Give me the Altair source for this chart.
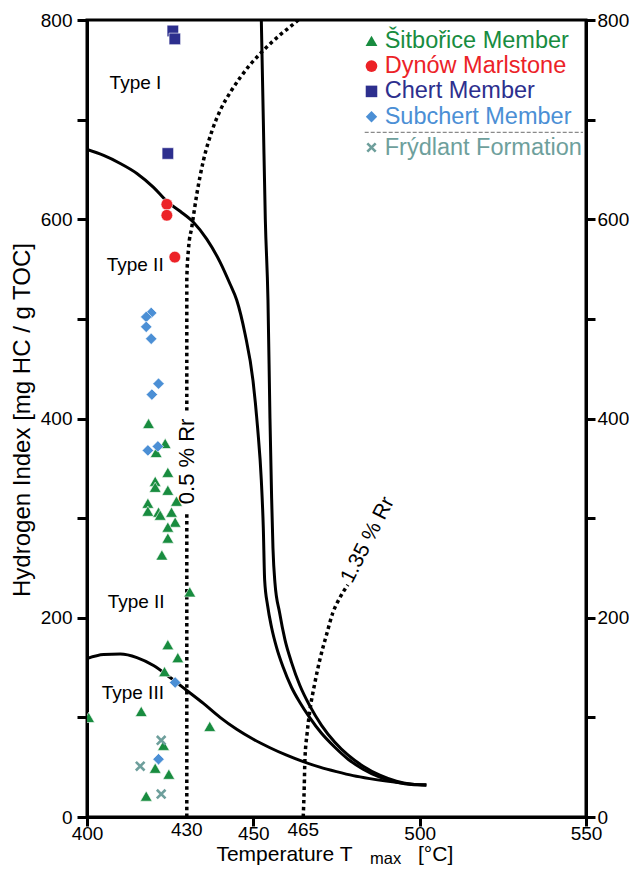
import altair as alt
import pandas as pd

FONT = "Liberation Sans"

groups = ["Šitbořice Member", "Dynów Marlstone", "Chert Member", "Subchert Member", "Frýdlant Formation"]
colors = ["#188c3f", "#ec2227", "#2d2f8e", "#4b8fd5", "#6e9f9c"]
shapes = ["triangle-up", "circle", "square", "diamond"]
sizes = [140, 130, 110, 150]

# --- samples (Tmax [°C], HI) ---
sit_t = [418.5, 423.5, 420.8, 424.3, 420.5, 420.5, 424.3, 418.3, 426.9, 418.3, 421.5, 422.0, 425.4,
         426.5, 424.3, 424.3, 422.5, 430.9, 424.3, 427.3, 423.3, 400.5, 416.3, 436.9, 423.0, 420.5,
         424.6, 417.8]
sit_hi = [395, 375, 366, 346, 337, 331, 328, 315, 317, 307, 306, 303, 306,
          296, 291, 280, 263, 226, 173, 160, 146, 100, 106, 91, 72, 49,
          43, 21]
dyn_t = [424.0, 424.0, 426.4]
dyn_hi = [615, 604, 562]
che_t = [425.8, 426.4, 424.3]
che_hi = [789, 781, 666]
sub_t = [419.3, 417.8, 417.8, 419.3, 421.5, 419.5, 418.3, 421.3, 426.5, 421.5]
sub_hi = [506, 502, 492, 480, 435, 424, 368, 372, 135, 58]
fry_t = [422.3, 416.0, 422.3]
fry_hi = [77, 51, 23]

# --- kerogen type boundaries ---
type1_t = [452.4, 453.0, 453.6, 454.4, 455.0, 455.5, 455.9, 456.5, 457.9, 459.5, 461.5, 464.0, 466.9,
           470.5, 474.5, 478.5, 483.0, 488.0, 493.0, 497.5, 502.0]
type1_hi = [800, 700, 600, 519, 400, 320, 270, 235, 205, 178, 155, 132, 112,
            92, 75, 62, 51, 42, 36, 33, 32]
type2_t = [400, 405, 410, 415, 420, 424, 428, 432, 436, 440, 443, 445, 447.5, 449.9, 451.3, 452.4,
           453.0, 453.4, 454.3, 455.5, 457.0, 459.0, 461.5, 464.0, 466.9, 470.5, 474.5, 478.5, 483.0,
           488.0, 493.0, 497.5, 502.0]
type2_hi = [670, 664, 656, 646, 632, 618, 608, 597, 580, 557, 535, 519, 485, 438, 390, 338,
            290, 238, 212, 190, 170, 150, 130, 115, 100, 84, 70, 58, 48,
            40, 35, 32.5, 32]
type3_t = [400, 405, 410, 415, 420, 425, 430, 435, 440, 445, 450, 455, 460, 465, 470, 475, 480,
           485, 490, 496, 502]
type3_hi = [159, 163, 163.5, 160, 152, 140, 127, 114, 100, 88, 78, 69.5, 62, 55.5, 50, 45.5, 41.5,
            38.5, 36, 33.5, 32]

# --- vitrinite reflectance isolines ---
r05a_t = [430, 430]
r05a_hi = [0, 306]
r05b_t = [430, 430, 430.5, 431.5, 433, 435, 437.5, 440, 443, 446, 449, 452, 455, 458, 461, 463.5]
r05b_hi = [408, 540, 570, 592, 625, 659, 688, 709, 727, 742, 755, 766, 776, 785, 793, 800]
r135_t = [465, 465.3, 465.5, 466.2, 467, 468.4, 470, 472, 473.9, 476, 478.4]
r135_hi = [0, 30, 57, 85, 107, 133, 158, 183, 205, 220, 233]

x_major = [400, 450, 500, 550]
x_extra = [430, 465]
y_ticks = list(range(0, 801, 100))

# ---------------- build tables ----------------
pts = pd.DataFrame(
    [{"group": g, "t": t, "hi": h}
     for g, ts, hs in [(groups[0], sit_t, sit_hi), (groups[1], dyn_t, dyn_hi),
                       (groups[2], che_t, che_hi), (groups[3], sub_t, sub_hi)]
     for t, h in zip(ts, hs)]
)
fry = pd.DataFrame({"t": fry_t, "hi": fry_hi})


def curve_df(items):
    rows = []
    for name, ts, hs in items:
        for i, (t, h) in enumerate(zip(ts, hs)):
            rows.append({"curve": name, "i": i, "t": t, "hi": h})
    return pd.DataFrame(rows)


solid = curve_df([("type1", type1_t, type1_hi), ("type2", type2_t, type2_hi), ("type3", type3_t, type3_hi)])
dotted = curve_df([("r05a", r05a_t, r05a_hi), ("r05b", r05b_t, r05b_hi), ("r135", r135_t, r135_hi)])

xs = alt.Scale(domain=[400, 550], nice=False, zero=False)
ys = alt.Scale(domain=[0, 800], nice=False, zero=False)

axis_common = dict(tickWidth=3, domainWidth=3, domainColor="black", tickColor="black",
                   labelColor="black", labelFont=FONT, grid=False, title=None,
                   labelFlush=False, labelOverlap=False)

x_axis = alt.Axis(values=x_major, orient="bottom", labelPadding=-1.2, tickSize=9, labelFontSize=19,
                  **axis_common)
y_left = alt.Axis(values=y_ticks, orient="left", labelPadding=5, tickSize=10, labelFontSize=19,
                  labelExpr="datum.value % 200 === 0 ? datum.label : ''", **axis_common)
y_right = alt.Axis(values=y_ticks, orient="right", labelPadding=2, tickSize=9, labelFontSize=19,
                   labelExpr="datum.value % 200 === 0 ? datum.label : ''", **axis_common)


def X(field="t:Q"):
    return alt.X(field, scale=xs, axis=x_axis)


curves = alt.Chart(solid).mark_line(color="black", strokeWidth=3, clip=True, interpolate="monotone").encode(
    x=X(),
    y=alt.Y("hi:Q", scale=ys, axis=y_left),
    detail="curve:N",
    order="i:Q",
)

dots = alt.Chart(dotted).mark_line(color="black", strokeWidth=3.5, strokeDash=[3.5, 3.3],
                                   strokeCap="butt", clip=True, interpolate="monotone").encode(
    x=X(),
    y=alt.Y("hi:Q", scale=ys, axis=None),
    detail="curve:N",
    order="i:Q",
)

right_axis = alt.Chart(pd.DataFrame({"hi": [0]})).mark_point(opacity=0).encode(
    y=alt.Y("hi:Q", scale=ys, axis=y_right)
)

color_scale = alt.Scale(domain=groups, range=colors)
shape_scale = alt.Scale(domain=groups[:4], range=shapes)
size_scale = alt.Scale(domain=groups[:4], range=sizes)

points = alt.Chart(pts).mark_point(filled=True, opacity=1, stroke="white", strokeWidth=0.6,
                                   clip=True).encode(
    x=X(),
    y=alt.Y("hi:Q", scale=ys, axis=None),
    color=alt.Color("group:N", scale=color_scale, legend=None),
    shape=alt.Shape("group:N", scale=shape_scale, legend=None),
    size=alt.Size("group:N", scale=size_scale, legend=None),
)

crosses = alt.Chart(fry).mark_point(shape="M-1,-1L1,1M1,-1L-1,1", filled=False, size=75,
                                    strokeWidth=2.6, color=colors[4], opacity=1, clip=True).encode(
    x=X(),
    y=alt.Y("hi:Q", scale=ys, axis=None),
)


# ---------------- annotations ----------------
def label(text, t, hi, size=19, angle=0, align="left", baseline="middle"):
    return alt.Chart(pd.DataFrame({"a": [0]})).mark_text(
        text=text, fontSize=size, font=FONT, color="black", angle=angle, align=align, baseline=baseline
    ).encode(
        x=alt.XDatum(t, scale=xs, axis=x_axis, type="quantitative"),
        y=alt.YDatum(hi, scale=ys, axis=None, type="quantitative"),
    )


ann = [
    label("Type I", 406.8, 737),
    label("Type II", 405.9, 554),
    label("Type II", 406.2, 216),
    label("Type III", 404.4, 124),
    label("0.5 % Rr", 430, 357, size=22, angle=270, align="center"),
    label("1.35 % Rr", 484.4, 278, size=21, angle=297, align="center"),
]

extra_ticks = alt.Chart(pd.DataFrame({"t": x_extra})).mark_text(
    fontSize=19, font=FONT, color="black", baseline="top", align="center"
).encode(
    x=X(),
    y=alt.value(800.5),
    text=alt.Text("t:Q", format="d"),
)


# axis titles
def px_text(text, x, y, size, angle=0, align="left", baseline="alphabetic"):
    return alt.Chart(pd.DataFrame({"a": [0]})).mark_text(
        text=text, fontSize=size, font=FONT, color="black", angle=angle, align=align, baseline=baseline
    ).encode(x=alt.value(x), y=alt.value(y))


titles = [
    px_text("Hydrogen Index [mg HC / g TOC]", -57, 400, 24, angle=270, align="center"),
    px_text("Temperature T", 129.4, 841.2, 21),
    px_text("max", 283, 843.5, 16.5),
    px_text("[°C]", 331, 841.2, 21),
]

# ---------------- legend ----------------
leg = pd.DataFrame({"group": groups, "row": list(range(len(groups)))})
leg_y = "datum.row < 4 ? 20.8 + 25.3 * datum.row : 127.5"

leg_sym = alt.Chart(leg).transform_filter("datum.row < 4").transform_calculate(py=leg_y).mark_point(
    filled=True, opacity=1
).encode(
    x=alt.value(284.5),
    y=alt.Y("py:Q", scale=None, axis=None),
    color=alt.Color("group:N", scale=color_scale, legend=None),
    shape=alt.Shape("group:N", scale=shape_scale, legend=None),
    size=alt.Size("group:N", scale=alt.Scale(domain=groups[:4], range=[125, 115, 78, 150]), legend=None),
)
leg_x = alt.Chart(leg).transform_filter("datum.row == 4").transform_calculate(py=leg_y).mark_point(
    shape="M-1,-1L1,1M1,-1L-1,1", filled=False, size=70, strokeWidth=2.6, color=colors[4], opacity=1
).encode(x=alt.value(284.5), y=alt.Y("py:Q", scale=None, axis=None))

leg_txt = alt.Chart(leg).transform_calculate(py=leg_y).mark_text(
    fontSize=23.5, font=FONT, align="left", baseline="middle"
).encode(
    x=alt.value(297.7),
    y=alt.Y("py:Q", scale=None, axis=None),
    text="group:N",
    color=alt.Color("group:N", scale=color_scale, legend=None),
)

leg_rule = alt.Chart(pd.DataFrame({"a": [0]})).mark_rule(
    color="#8a8a8a", strokeWidth=1.3, strokeDash=[4, 2]
).encode(x=alt.value(277.7), x2=alt.value(496), y=alt.value(112.3))

chart = alt.layer(
    curves, dots, right_axis, points, crosses, *ann, extra_ticks, *titles,
    leg_rule, leg_sym, leg_x, leg_txt
).resolve_scale(y="independent").properties(
    width=499, height=797,
    autosize=alt.AutoSizeParams(type="none"),
    padding={"left": 79, "top": 12, "right": 43, "bottom": 48},
).configure(font=FONT).configure_view(stroke="black", strokeWidth=3)

chart.save("out.html", embed_options={"renderer": "svg", "actions": False})
